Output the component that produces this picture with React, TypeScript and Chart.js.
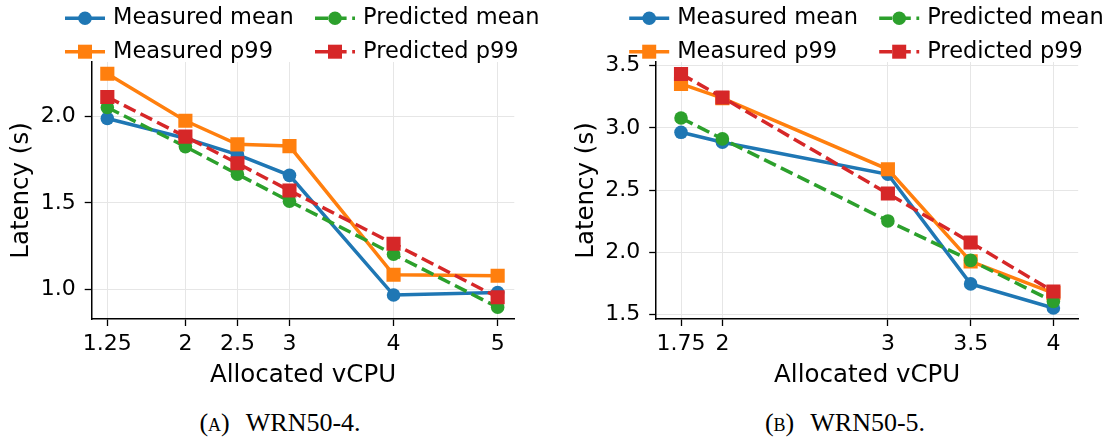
import React, { useEffect, useRef } from "react";
import { Chart, registerables } from "chart.js";

Chart.register(...registerables);

// ---------- Data ----------
const seriesLabels = ["Measured mean", "Measured p99", "Predicted mean", "Predicted p99"];

// (a) WRN50-4
const vcpuA = [1.25, 2, 2.5, 3, 4, 5];
const xTickLabelsA = ["1.25", "2", "2.5", "3", "4", "5"];
const measuredMeanA = [1.99, 1.875, 1.78, 1.66, 0.965, 0.98];
const measuredP99A = [2.25, 1.977, 1.84, 1.83, 1.083, 1.077];
const predictedMeanA = [2.054, 1.827, 1.667, 1.51, 1.202, 0.894];
const predictedP99A = [2.115, 1.885, 1.73, 1.572, 1.263, 0.952];
const yTicksA = [1.0, 1.5, 2.0];

// (b) WRN50-5
const vcpuB = [1.75, 2, 3, 3.5, 4];
const xTickLabelsB = ["1.75", "2", "3", "3.5", "4"];
const measuredMeanB = [2.965, 2.885, 2.628, 1.747, 1.553];
const measuredP99B = [3.354, 3.24, 2.668, 1.928, 1.673];
const predictedMeanB = [3.08, 2.912, 2.253, 1.936, 1.606];
const predictedP99B = [3.434, 3.245, 2.473, 2.08, 1.686];
const yTicksB = [1.5, 2.0, 2.5, 3.0, 3.5];

const xTitle = "Allocated vCPU";
const yTitle = "Latency (s)";
const captionA = "(a) WRN50-4.";
const captionB = "(b) WRN50-5.";

// ---------- Styles ----------
const FONT = "DejaVu Sans";
const COLORS = ["#1f77b4", "#ff7f0e", "#2ca02c", "#d62728"];
const DASHED = [false, false, true, true];
const MARKERS = ["circle", "rect", "circle", "rect"];
const ORDER = [4, 3, 2, 1];
const LINE_W = 3.5;
const DASH = [13, 5.6];
const CANVAS_H = 400;
const PLOT_TOP = 62;
const PLOT_BOTTOM = 319;
const GRID = "#e6e6e6";

type PanelProps = {
  x: number[];
  xLabels: string[];
  series: number[][];
  yTicks: number[];
  xMin: number;
  xMax: number;
  yMin: number;
  yMax: number;
  canvasLeft: number;
  canvasWidth: number;
  plotLeft: number;
  plotRight: number;
  yTitlePad: number;
};

const legendPlugin = {
  id: "customLegend",
  afterDraw(chart: any) {
    const ctx = chart.ctx as CanvasRenderingContext2D;
    const ca = chart.chartArea;
    const cx = (ca.left + ca.right) / 2;
    const grid = [
      [0, 2],
      [1, 3],
    ];
    const colStarts = [cx - 238, cx + 12];
    const rowYs = [18.3, 51.7];
    const handleLen = 40;
    ctx.save();
    grid.forEach((row, r) => {
      row.forEach((si, c) => {
        const x0 = colStarts[c];
        const y = rowYs[r];
        ctx.strokeStyle = COLORS[si];
        ctx.lineWidth = LINE_W;
        ctx.setLineDash(DASHED[si] ? DASH : []);
        ctx.beginPath();
        ctx.moveTo(x0, y);
        ctx.lineTo(x0 + handleLen, y);
        ctx.stroke();
        ctx.setLineDash([]);
        ctx.fillStyle = COLORS[si];
        const mx = x0 + handleLen / 2;
        if (MARKERS[si] === "circle") {
          ctx.beginPath();
          ctx.arc(mx, y, 6.8, 0, Math.PI * 2);
          ctx.fill();
        } else {
          ctx.fillRect(mx - 7, y - 7, 14, 14);
        }
        ctx.fillStyle = "#000";
        ctx.font = `22.5px "${FONT}"`;
        ctx.textBaseline = "middle";
        ctx.textAlign = "left";
        ctx.fillText(seriesLabels[si], x0 + 48, y);
      });
    });
    ctx.restore();
  },
};

function Panel(p: PanelProps) {
  const ref = useRef<HTMLCanvasElement>(null);
  useEffect(() => {
    const tickFont = { family: FONT, size: 22 };
    const titleFont = { family: FONT, size: 24.5 };
    const chart = new Chart(ref.current as HTMLCanvasElement, {
      type: "line",
      data: {
        datasets: p.series.map((vals, i) => ({
          label: seriesLabels[i],
          data: p.x.map((xv, j) => ({ x: xv, y: vals[j] })),
          borderColor: COLORS[i],
          backgroundColor: COLORS[i],
          borderWidth: LINE_W,
          borderDash: DASHED[i] ? DASH : [],
          pointStyle: MARKERS[i] as any,
          pointRadius: MARKERS[i] === "rect" ? 10 : 6.8,
          pointHoverRadius: MARKERS[i] === "rect" ? 10 : 6.8,
          pointBorderWidth: 0,
          pointBackgroundColor: COLORS[i],
          order: ORDER[i],
          tension: 0,
          fill: false,
        })),
      },
      options: {
        animation: false,
        responsive: false,
        devicePixelRatio: 1,
        events: [],
        layout: {
          padding: { left: 0, top: PLOT_TOP, right: p.canvasWidth - p.plotRight, bottom: 0 },
        },
        plugins: { legend: { display: false }, tooltip: { enabled: false } },
        scales: {
          x: {
            type: "linear",
            min: p.xMin,
            max: p.xMax,
            afterBuildTicks: (s: any) => {
              s.ticks = p.x.map((v) => ({ value: v }));
            },
            afterFit: (s: any) => {
              s.height = CANVAS_H - PLOT_BOTTOM;
            },
            ticks: {
              autoSkip: false,
              maxRotation: 0,
              padding: 5,
              color: "#000",
              font: tickFont,
              callback: (_v: any, i: number) => p.xLabels[i],
            },
            grid: { color: GRID, lineWidth: 1, tickColor: "#000", tickLength: 7, tickWidth: 1.3 },
            border: { color: "#000", width: 1.5 },
            title: {
              display: true,
              text: xTitle,
              color: "#000",
              font: titleFont,
              padding: { top: 0, bottom: 9.3 },
            },
          },
          y: {
            type: "linear",
            min: p.yMin,
            max: p.yMax,
            afterBuildTicks: (s: any) => {
              s.ticks = p.yTicks.map((v) => ({ value: v }));
            },
            afterFit: (s: any) => {
              s.width = p.plotLeft;
            },
            ticks: {
              padding: 9,
              color: "#000",
              font: tickFont,
              callback: (v: any) => Number(v).toFixed(1),
            },
            grid: { color: GRID, lineWidth: 1, tickColor: "#000", tickLength: 7, tickWidth: 1.3 },
            border: { color: "#000", width: 1.5 },
            title: {
              display: true,
              text: yTitle,
              color: "#000",
              font: titleFont,
              padding: { top: p.yTitlePad, bottom: 0 },
            },
          },
        },
      },
      plugins: [legendPlugin],
    } as any);
    return () => chart.destroy();
  }, []);
  return (
    <canvas
      ref={ref}
      width={p.canvasWidth}
      height={CANVAS_H}
      style={{ position: "absolute", left: p.canvasLeft, top: 0, width: p.canvasWidth, height: CANVAS_H }}
    />
  );
}

const captionStyle = (center: number): React.CSSProperties => ({
  position: "absolute",
  left: center - 200,
  width: 400,
  top: 408,
  height: 30,
  lineHeight: "30px",
  textAlign: "center",
  fontFamily: '"Liberation Serif", serif',
  fontSize: 26,
  fontVariant: "small-caps",
  wordSpacing: 10,
  color: "#000",
  whiteSpace: "nowrap",
});

export default function App() {
  return (
    <div style={{ position: "absolute", left: 0, top: 0, width: 1115, height: 440, background: "#fff", overflow: "hidden" }}>
      <Panel
        x={vcpuA}
        xLabels={xTickLabelsA}
        series={[measuredMeanA, measuredP99A, predictedMeanA, predictedP99A]}
        yTicks={yTicksA}
        xMin={1.1}
        xMax={5.16}
        yMin={0.826}
        yMax={2.318}
        canvasLeft={0}
        canvasWidth={557}
        plotLeft={91.7}
        plotRight={514.3}
        yTitlePad={7.3}
      />
      <Panel
        x={vcpuB}
        xLabels={xTickLabelsB}
        series={[measuredMeanB, measuredP99B, predictedMeanB, predictedP99B]}
        yTicks={yTicksB}
        xMin={1.6}
        xMax={4.15}
        yMin={1.465}
        yMax={3.53}
        canvasLeft={557}
        canvasWidth={558}
        plotLeft={99.2}
        plotRight={521.2}
        yTitlePad={15}
      />
      <div style={captionStyle(280)}>{captionA}</div>
      <div style={captionStyle(845)}>{captionB}</div>
    </div>
  );
}
